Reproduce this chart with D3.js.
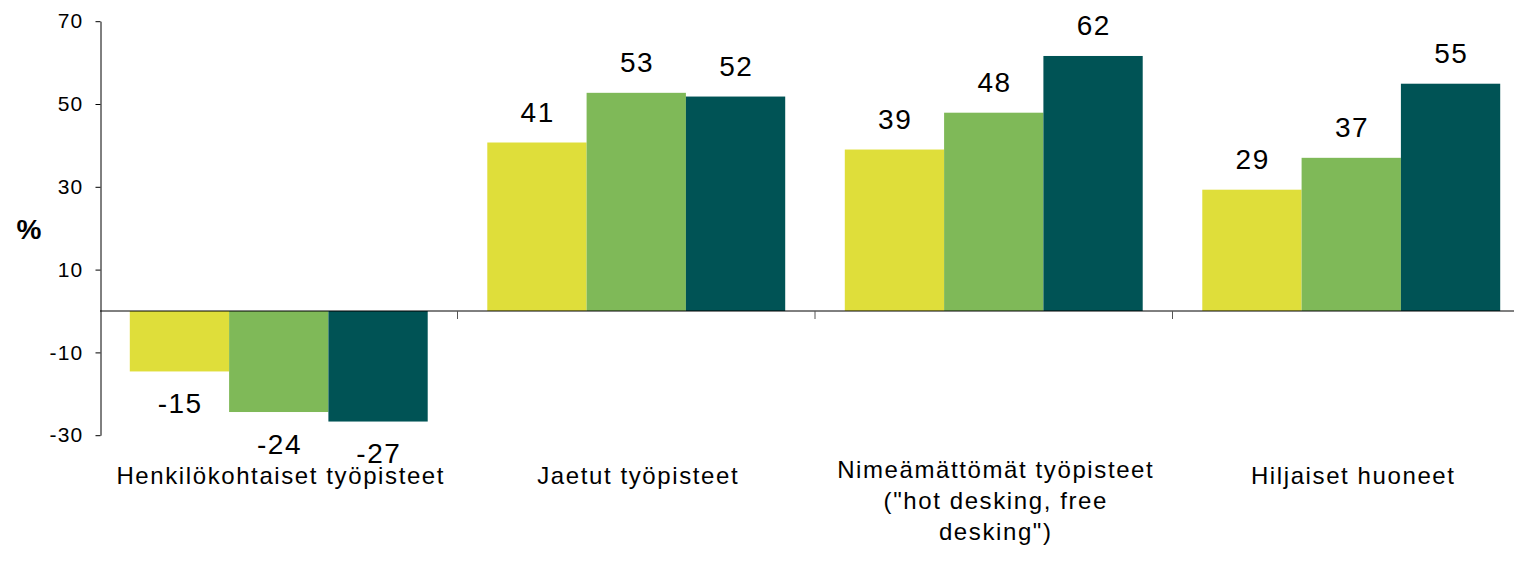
<!DOCTYPE html>
<html>
<head>
<meta charset="utf-8">
<script src="https://cdn.jsdelivr.net/npm/d3@7"></script>
<style>
  body { margin: 0; background: #fff; }
  svg { display: block; font-family: "Liberation Sans", Arial, sans-serif; }
</style>
</head>
<body>
<svg></svg>
<script>
// data
const categories = [
  ["Henkilökohtaiset työpisteet"],
  ["Jaetut työpisteet"],
  ["Nimeämättömät työpisteet", "(\"hot desking, free", "desking\")"],
  ["Hiljaiset huoneet"]
];
const seriesNames = ["s1", "s2", "s3"];
const s1Values = [-14.6, 40.7, 39.0, 29.3];
const s2Values = [-24.4, 52.7, 47.9, 37.0];
const s3Values = [-26.7, 51.8, 61.6, 54.9];
const yTicks = [-30, -10, 10, 30, 50, 70];
const colors = ["#dfde3a", "#7fb958", "#005355"];

const w = 1514;
const h = 564;
const svg = d3.select("svg")
              .attr("width", w)
              .attr("height", h);

const catKeys = categories.map((c) => c.join(" "));
const allValues = [s1Values, s2Values, s3Values];

const x0 = d3.scaleBand()
             .domain(catKeys)
             .range([100, 1530])
             .paddingInner(0)
             .paddingOuter(0);

const x1 = d3.scaleBand()
             .domain(seriesNames)
             .range([0, x0.bandwidth()])
             .paddingInner(0)
             .paddingOuter(0.3);

const yScale = d3.scaleLinear()
                 .domain([-30, 70])
                 .range([435.2, 21.2]);

// plain hyphen for negatives, like the original
const fmt = d3.formatLocale({decimal: ".", thousands: "", grouping: [3], currency: ["", ""], minus: "-"})
              .format(".0f");

// bars
const groups = svg.append("g")
  .selectAll("g")
  .data(catKeys)
  .enter().append("g")
  .attr("transform", (d) => "translate(" + x0(d) + ",0)");

groups.selectAll("rect")
  .data((d, i) => seriesNames.map((s, j) => ({s: s, v: allValues[j][i], c: colors[j]})))
  .enter().append("rect")
  .attr("x", (d) => x1(d.s))
  .attr("width", x1.bandwidth())
  .attr("y", (d) => yScale(Math.max(0, d.v)))
  .attr("height", (d) => Math.abs(yScale(d.v) - yScale(0)))
  .attr("fill", (d) => d.c);

// value labels
groups.selectAll("text.val")
  .data((d, i) => seriesNames.map((s, j) => ({s: s, v: allValues[j][i]})))
  .enter().append("text")
  .attr("class", "val")
  .attr("x", (d) => x1(d.s) + x1.bandwidth() / 2 + 0.75)
  .attr("y", (d) => d.v >= 0 ? yScale(d.v) - 21 : yScale(d.v) + 41.5)
  .attr("text-anchor", "middle")
  .attr("font-size", 28)
  .attr("letter-spacing", "1.5px")
  .attr("fill", "#000")
  .text((d) => fmt(d.v));

// x axis line + boundary ticks
svg.append("line")
   .attr("x1", 100).attr("x2", w)
   .attr("y1", yScale(0)).attr("y2", yScale(0))
   .attr("stroke", "#000")
   .attr("stroke-width", 1);

svg.append("g")
  .selectAll("line")
  .data(catKeys.slice(1))
  .enter().append("line")
  .attr("x1", (d) => x0(d)).attr("x2", (d) => x0(d))
  .attr("y1", yScale(0)).attr("y2", yScale(0) + 8)
  .attr("stroke", "#555")
  .attr("stroke-width", 1);

// y axis
const yAxis = d3.axisLeft(yScale)
                .tickValues(yTicks)
                .tickFormat(fmt)
                .tickSize(5)
                .tickSizeOuter(0)
                .tickPadding(12);

const yg = svg.append("g")
              .attr("transform", "translate(100.5,0)")
              .call(yAxis);
yg.select(".domain").attr("stroke", "#000");
yg.selectAll(".tick line").attr("stroke", "#000");
yg.selectAll(".tick text")
  .attr("font-size", 21)
  .attr("font-family", "Liberation Sans, Arial, sans-serif")
  .attr("letter-spacing", "1.2px")
  .attr("fill", "#000");

// y title
svg.append("text")
   .attr("x", 29)
   .attr("y", 239)
   .attr("text-anchor", "middle")
   .attr("font-size", 28)
   .attr("font-weight", "bold")
   .attr("fill", "#000")
   .text("%");

// category labels
const catLabels = svg.append("g")
  .selectAll("text")
  .data(categories)
  .enter().append("text")
  .attr("text-anchor", "middle")
  .attr("font-size", 24)
  .attr("letter-spacing", "1.6px")
  .attr("fill", "#000")
  .attr("x", (d) => x0(d.join(" ")) + x0.bandwidth() / 2 + 2)
  .attr("y", (d) => 484 - (d.length - 1) * 3);

catLabels.selectAll("tspan")
  .data((d) => d)
  .enter().append("tspan")
  .attr("x", function() { return d3.select(this.parentNode).attr("x"); })
  .attr("dy", (d, i) => i == 0 ? 0 : 31)
  .text((d) => d);
</script>
</body>
</html>
